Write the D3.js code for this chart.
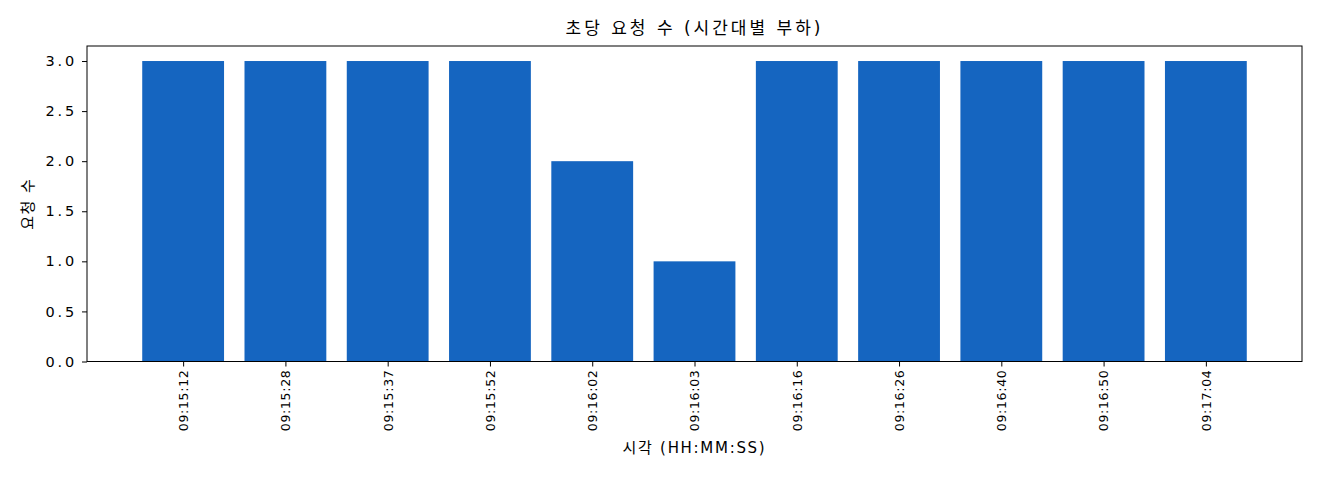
<!DOCTYPE html>
<html>
<head>
<meta charset="utf-8">
<script src="https://cdn.jsdelivr.net/npm/d3@7"></script>
<style>
  body { margin: 0; background: #fff; }
  svg text { font-family: "DejaVu Sans", "Noto Sans CJK KR", sans-serif; fill: #000; }
</style>
</head>
<body>
<svg id="chart" width="1320" height="480"></svg>
<script>
"use strict";

const times = ["09:15:12", "09:15:28", "09:15:37", "09:15:52", "09:16:02", "09:16:03",
    "09:16:16", "09:16:26", "09:16:40", "09:16:50", "09:17:04"];
const counts = [3, 3, 3, 3, 2, 1, 3, 3, 3, 3, 3];
const yTicks = [0, 0.5, 1.0, 1.5, 2.0, 2.5, 3.0];

{
    const svg = d3.select("#chart"),
        margin = { top: 46, right: 18, bottom: 118.5, left: 87 },
        w = 1320 - margin.left - margin.right,
        h = 480 - margin.top - margin.bottom;

    // matplotlib-style limits: bars width 0.8, 5% margins
    const x = d3.scaleLinear()
        .domain([-0.94, times.length - 1 + 0.94]).range([0, w]);
    const y = d3.scaleLinear()
        .domain([0, 3.15]).range([h, 0]);

    const g = svg.append("g")
        .attr("transform", `translate(${margin.left},${margin.top})`);

    g.selectAll("rect.bar")
        .data(counts)
        .join("rect")
        .attr("class", "bar")
        .attr("x", (d, i) => x(i - 0.4))
        .attr("width", x(0.8) - x(0))
        .attr("y", d => y(d))
        .attr("height", d => y(0) - y(d))
        .attr("fill", "#1565c0");

    const yAxis = g.append("g")
        .call(d3.axisLeft(y).tickValues(yTicks).tickFormat(d3.format(".1f"))
            .tickSize(5).tickPadding(5));
    yAxis.select(".domain").remove();
    yAxis.selectAll("text")
        .attr("font-size", 14.5)
        .attr("letter-spacing", 2.8);

    const xAxis = g.append("g")
        .attr("transform", `translate(0,${h})`)
        .call(d3.axisBottom(x).tickValues(d3.range(times.length))
            .tickFormat(i => times[i]).tickSize(5).tickPadding(4));
    xAxis.select(".domain").remove();
    xAxis.selectAll("text")
        .attr("font-size", 12.5)
        .attr("letter-spacing", 0.7)
        .attr("transform", "rotate(-90)")
        .attr("text-anchor", "end")
        .attr("x", -8)
        .attr("y", 0)
        .attr("dy", "0.35em");

    g.append("rect")
        .attr("width", w).attr("height", h)
        .attr("fill", "none").attr("stroke", "#000").attr("stroke-width", 1);

    svg.append("text")
        .attr("x", margin.left + w / 2).attr("y", 34)
        .attr("text-anchor", "middle").attr("font-size", 17)
        .attr("letter-spacing", 3)
        .text("초당 요청 수 (시간대별 부하)");

    svg.append("text")
        .attr("x", margin.left + w / 2).attr("y", 453)
        .attr("text-anchor", "middle").attr("font-size", 15)
        .attr("letter-spacing", 1.7)
        .text("시각 (HH:MM:SS)");

    svg.append("text")
        .attr("transform", `translate(33,${margin.top + h / 2}) rotate(-90)`)
        .attr("text-anchor", "middle").attr("font-size", 15)
        .attr("letter-spacing", 1.5)
        .text("요청 수");
}
</script>
</body>
</html>
